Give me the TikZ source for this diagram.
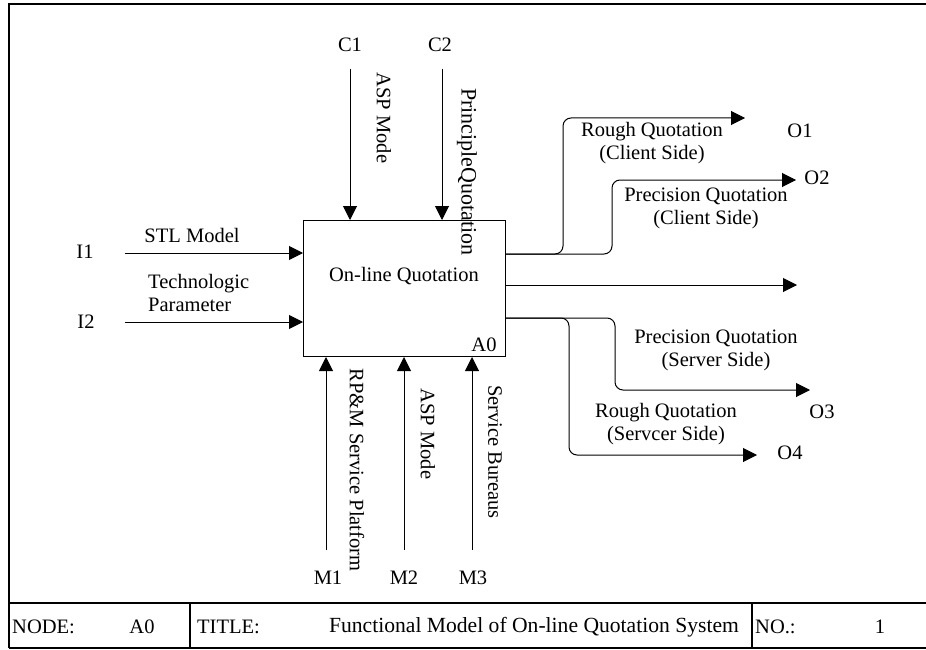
\documentclass[tikz,border=0pt]{standalone}
\usepackage{fontspec}
\setmainfont{Liberation Serif}
\usetikzlibrary{arrows.meta,calc}
\begin{document}
\begin{tikzpicture}[x=1pt,y=-1pt,
  every node/.style={font=\fontsize{20.5}{23}\selectfont, inner sep=0pt},
  arr/.style={-{Triangle[length=14pt,width=14pt]}, line width=1pt},
  frame/.style={line width=1.8pt},
  vlab/.style={rotate=-90},
  lab/.style={align=center}]
\useasboundingbox (0,0) rectangle (926,650);
% frame
\draw[frame] (9,648) -- (9,4) -- (930,4);
\draw[frame] (9,603) -- (930,603);
\draw[frame] (9,648) -- (930,648);
\draw[frame] (190,603) -- (190,648);
\draw[frame] (752,603) -- (752,648);
\node[anchor=west] (tnode) at (12,627) {NODE:};
\node (tnodev) at (142,627) {A0};
\node[anchor=west] (ttitle) at (197,627) {TITLE:};
\node[font=\fontsize{21.6}{24}\selectfont] (ttitlev) at (534,627) {Functional Model of On-line Quotation System};
\node[anchor=west] (tno) at (755,627) {NO.:};
\node (tnov) at (880,627) {1};
% main box
\node[draw, line width=1pt, minimum width=202pt, minimum height=136pt, anchor=north west] (box) at (303,220) {};
\node (boxtxt) at (404,276) {On-line Quotation};
\node (boxid) at (484,345) {A0};
% controls
\coordinate (c1s) at (350,69);
\coordinate (c2s) at (442,69);
\node (c1) at (350,45) {C1};
\node (c2) at (440,45) {C2};
\draw[arr] (c1s) -- (c1s |- box.north);
\draw[arr] (c2s) -- (c2s |- box.north);
\node[vlab] (c1l) at (384,118) {ASP Mode};
\node[vlab, font=\fontsize{22}{24}\selectfont] (c2l) at (467,172) {PrincipleQuotation};
% inputs
\coordinate (i1s) at (125,253);
\coordinate (i2s) at (125,322);
\node (i1) at (85,252) {I1};
\node (i2) at (86,322) {I2};
\draw[arr] (i1s) -- (i1s -| box.west);
\draw[arr] (i2s) -- (i2s -| box.west);
\node (i1l) at (192,235) {STL Model};
\node[align=left, anchor=west] (i2l) at (148,293) {Technologic\\Parameter};
% mechanisms
\coordinate (m1s) at (326,550);
\coordinate (m2s) at (404,550);
\coordinate (m3s) at (472,550);
\node (m1) at (328,578) {M1};
\node (m2) at (404,578) {M2};
\node (m3) at (473,578) {M3};
\draw[arr] (m1s) -- (m1s |- box.south);
\draw[arr] (m2s) -- (m2s |- box.south);
\draw[arr] (m3s) -- (m3s |- box.south);
\node[vlab] (m1l) at (357,470) {RP\&M Service Platform};
\node[vlab] (m2l) at (428,434) {ASP Mode};
\node[vlab] (m3l) at (495,452) {Service Bureaus};
% outputs
\coordinate (outa) at (box.north east |- 0,254);
\coordinate (outb) at (box.north east |- 0,285);
\coordinate (outc) at (box.north east |- 0,318);
\coordinate (o1e) at (745,118);
\coordinate (o2e) at (796,180);
\coordinate (o5e) at (797,285);
\coordinate (o3e) at (810,390);
\coordinate (o4e) at (757,455);
\draw[arr, rounded corners=8pt] (outa) -- (563,254) -- (563,118) -- (o1e);
\draw[arr, rounded corners=8pt] (outa) -- (612,254) -- (612,180) -- (o2e);
\draw[arr] (outb) -- (o5e);
\draw[arr, rounded corners=8pt] (outc) -- (615,318) -- (615,390) -- (o3e);
\draw[arr, rounded corners=8pt] (outc) -- (569,318) -- (569,455) -- (o4e);
\node (o1) at (800,131) {O1};
\node (o2) at (817,178) {O2};
\node (o3) at (822,412) {O3};
\node (o4) at (790,453) {O4};
\node[lab] (o1l) at (652,143) {Rough Quotation\\(Client Side)};
\node[lab] (o2l) at (706,208) {Precision Quotation\\(Client Side)};
\node[lab] (o3l) at (716,350) {Precision Quotation\\(Server Side)};
\node[lab] (o4l) at (666,424) {Rough Quotation\\(Servcer Side)};
\end{tikzpicture}
\end{document}
